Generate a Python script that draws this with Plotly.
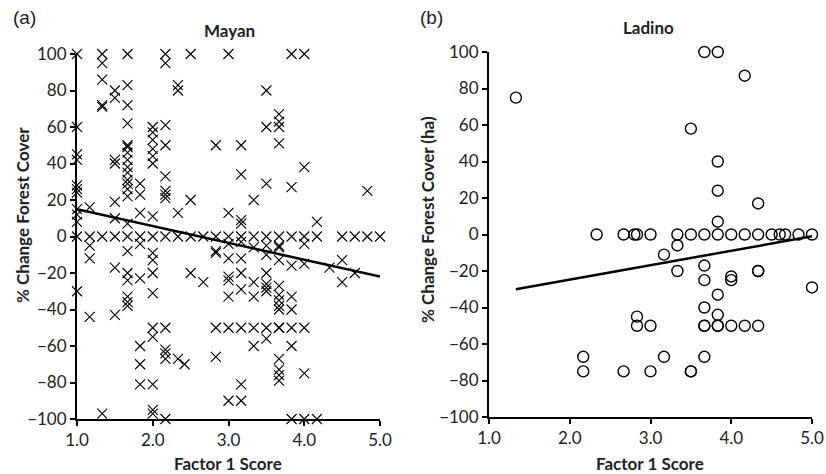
import plotly.graph_objects as go

# ---------------- Mayan data (Factor 1 score, % change forest cover) ----------------
mayan_x = (
    [1.0] * 12 + [1.167] * 5 + [1.333] * 7 + [1.5] * 9 + [1.667] * 22 + [1.833] * 9
    + [2.0] * 17 + [2.167] * 14 + [2.333] * 5 + [2.42] + [2.5] * 4 + [2.667] * 2
    + [2.833] * 6 + [3.0] * 10 + [3.167] * 12 + [3.333] * 7 + [3.5] * 12 + [3.667] * 19
    + [3.833] * 9 + [4.0] * 8 + [4.167] * 3 + [4.333] * 1 + [4.5] * 3 + [4.667] * 2
    + [4.833] * 2 + [5.0] * 1
)
mayan_y = (
    [100, 60, 45, 42, 28, 26, 24, 15, 12, 8, 0, -30]
    + [16, 0, -5, -12, -44]
    + [100, 95, 86, 72, 71, 0, -97]
    + [80, 76, 42, 40, 19, 10, 0, -17, -43]
    + [100, 83, 72, 62, 50, 49, 46, 42, 38, 35, 31, 29, 26, 22, 7, 0, -8, -20, -24, -33, -36, -38]
    + [29, 23, 13, 0, -4, -23, -60, -70, -81]
    + [60, 57, 53, 48, 44, 40, 11, 0, -9, -13, -20, -31, -50, -55, -81, -95, -97]
    + [100, 95, 61, 50, 33, 25, 23, 21, 0, -50, -62, -64, -67, -100]
    + [83, 80, 13, 0, -67]
    + [-70]
    + [100, 20, 0, -20]
    + [0, -25]
    + [50, 0, -8, -9, -50, -66]
    + [100, 13, 0, -4, -12, -22, -24, -33, -50, -90]
    + [50, 34, 9, 7, 0, -3, -12, -20, -29, -50, -81, -90]
    + [20, 0, -6, -25, -33, -50, -60]
    + [80, 60, 29, 0, -5, -10, -20, -26, -28, -30, -50, -56]
    + [67, 63, 60, 51, 0, -6, -13, -27, -32, -35, -38, -40, -50, -67, -73, -76, -79, -50, -5]
    + [100, 27, 0, -16, -33, -40, -50, -60, -100]
    + [100, 38, 0, -4, -15, -50, -75, -100]
    + [8, 0, -100]
    + [-17]
    + [0, -13, -25]
    + [0, -20]
    + [25, 0]
    + [0]
)
mayan_trend_x = [1.0, 5.0]
mayan_trend_y = [15, -22]

# ---------------- Ladino data ----------------
ladino_x = (
    [1.333] + [2.167] * 2 + [2.333] + [2.667] * 2 + [2.8] + [2.833] * 3 + [3.0] * 3
    + [3.167] * 2 + [3.333] * 3 + [3.5] * 4 + [3.667] * 8 + [3.833] * 9 + [4.0] * 4
    + [4.167] * 3 + [4.333] * 5 + [4.5, 4.6, 4.667, 4.833] + [5.0] * 2
)
ladino_y = (
    [75] + [-67, -75] + [0] + [0, -75] + [0] + [0, -45, -50] + [0, -50, -75]
    + [-11, -67] + [0, -6, -20] + [58, 0, -75, -75]
    + [100, 0, -17, -25, -40, -50, -50, -67]
    + [100, 40, 24, 7, 0, -33, -44, -50, -50]
    + [0, -23, -25, -50]
    + [87, 0, -50]
    + [17, 0, -20, -20, -50]
    + [0, 0, 0, 0]
    + [0, -29]
)
ladino_trend_x = [1.333, 5.0]
ladino_trend_y = [-30, -1]

x_ticks = [1.0, 2.0, 3.0, 4.0, 5.0]
x_tick_labels = ["1.0", "2.0", "3.0", "4.0", "5.0"]
y_ticks = [-100, -80, -60, -40, -20, 0, 20, 40, 60, 80, 100]
y_tick_labels = ["\u2212100", "\u221280", "\u221260", "\u221240", "\u221220", "0",
                 "20", "40", "60", "80", "100"]

W, H = 826, 474
FONT = "Lato"

fig = go.Figure()

fig.add_trace(go.Scatter(
    x=mayan_x, y=mayan_y, mode="markers", xaxis="x", yaxis="y",
    marker=dict(symbol="x-thin", size=10, color="black",
                line=dict(color="black", width=1.1)),
    cliponaxis=False, showlegend=False))
fig.add_trace(go.Scatter(
    x=mayan_trend_x, y=mayan_trend_y, mode="lines", xaxis="x", yaxis="y",
    line=dict(color="black", width=2.5), showlegend=False))

fig.add_trace(go.Scatter(
    x=ladino_x, y=ladino_y, mode="markers", xaxis="x2", yaxis="y2",
    marker=dict(symbol="circle-open", size=11, color="black",
                line=dict(color="black", width=1.4)),
    cliponaxis=False, showlegend=False))
fig.add_trace(go.Scatter(
    x=ladino_trend_x, y=ladino_trend_y, mode="lines", xaxis="x2", yaxis="y2",
    line=dict(color="black", width=2.5), showlegend=False))


def px_x(p):
    return p / W


def px_y(p):
    return 1 - p / H


axis_common = dict(
    showline=True, linecolor="black", linewidth=2, ticks="outside",
    ticklen=5, tickwidth=1.5, tickcolor="black", showgrid=False, zeroline=False,
    automargin=False,
    tickfont=dict(family=FONT, size=17, color="#222"),
)

fig.update_layout(
    template="none",
    width=W, height=H,
    margin=dict(l=0, r=0, t=0, b=0, pad=0),
    paper_bgcolor="white", plot_bgcolor="white",
    xaxis=dict(domain=[px_x(77), px_x(380)], range=[1, 5], anchor="y",
               tickvals=x_ticks, ticktext=x_tick_labels, **axis_common),
    yaxis=dict(domain=[px_y(419), px_y(54)], range=[-100, 100], anchor="x",
               tickvals=y_ticks, ticktext=y_tick_labels, **axis_common),
    xaxis2=dict(domain=[px_x(489), px_x(812)], range=[1, 5], anchor="y2",
                tickvals=x_ticks, ticktext=x_tick_labels, **axis_common),
    yaxis2=dict(domain=[px_y(417), px_y(52)], range=[-100, 100], anchor="x2",
                tickvals=y_ticks, ticktext=y_tick_labels, **axis_common),
)


def ann(text, x, y, font, angle=0):
    fig.add_annotation(text=text, x=px_x(x), y=px_y(y), xref="paper", yref="paper",
                       showarrow=False, font=font, textangle=angle,
                       xanchor="center", yanchor="middle")


title_font = dict(family=FONT, size=17, color="#222", weight="bold")
ann("Mayan", 229, 31, title_font)
ann("Ladino", 648, 28, title_font)
ann("Factor 1 Score", 228, 463, title_font)
ann("Factor 1 Score", 650, 463, title_font)
ann("% Change Forest Cover", 22, 215, title_font, angle=-90)
ann("% Change Forest Cover (ha)", 427, 219, title_font, angle=-90)
ann("(a)", 24, 17, dict(family="Liberation Sans", size=19, color="#222"))
ann("(b)", 431, 17, dict(family="Liberation Sans", size=19, color="#222"))

fig.write_html(
    "out.html",
    config={"displayModeBar": False},
    post_script="document.body.style.margin='0px';document.body.style.overflow='hidden';",
)
